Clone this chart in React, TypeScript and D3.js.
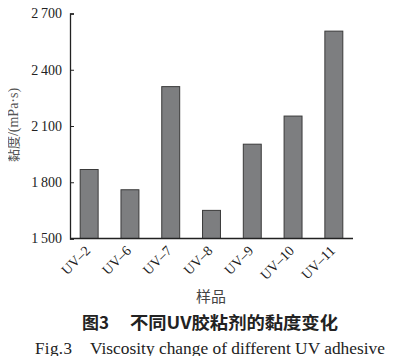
import { useEffect, useRef } from 'react';
import * as d3 from 'd3';

const samples = ['UV–2', 'UV–6', 'UV–7', 'UV–8', 'UV–9', 'UV–10', 'UV–11'];
const viscosity = [1868, 1760, 2310, 1650, 2003, 2153, 2606];
const yTicks = [1500, 1800, 2100, 2400, 2700];

const serif = '"Liberation Serif", "DejaVu Serif", serif';
const cjk = '"Noto Sans CJK SC", "Liberation Serif", serif';

export default function App() {
    const svgRef = useRef<SVGSVGElement>(null);

    useEffect(() => {
        const width = 393;
        const height = 364;
        const svg = d3.select(svgRef.current)
            .attr('width', width)
            .attr('height', height);
        svg.selectAll('*').remove();

        const left = 70, right = 353, top = 13.5, bottom = 238.5;

        const x = d3.scaleBand().domain(samples).range([left, right]).paddingInner(0.56).paddingOuter(0.25);
        const y = d3.scaleLinear().domain([1500, 2700]).range([bottom, top]);

        // bars
        svg.selectAll('.bar')
            .data(samples)
            .enter()
            .append('rect')
            .attr('x', d => x(d)!)
            .attr('width', x.bandwidth())
            .attr('y', (d, i) => y(viscosity[i]))
            .attr('height', (d, i) => bottom - y(viscosity[i]))
            .attr('fill', '#7d7e80')
            .attr('stroke', '#3a3a3a')
            .attr('stroke-width', 1);

        // y axis
        const yAxis = d3.axisLeft(y).tickValues(yTicks).tickSize(-4).tickPadding(8)
            .tickFormat(d => d3.format(',')(d as number).replace(',', '\u2009'));
        const gy = svg.append('g').attr('transform', `translate(${left},0)`).call(yAxis);
        gy.attr('font-family', null).attr('font-size', null);
        gy.select('.domain').attr('stroke', '#222').attr('stroke-width', 1.3);
        gy.selectAll('line').attr('stroke', '#222');
        gy.selectAll('text')
            .style('font-family', serif)
            .style('font-size', '14px')
            .attr('fill', '#222');

        // x axis line
        svg.append('line')
            .attr('x1', left).attr('x2', right)
            .attr('y1', bottom).attr('y2', bottom)
            .attr('stroke', '#222').attr('stroke-width', 1.3);

        // x labels
        svg.selectAll('.xl')
            .data(samples)
            .enter()
            .append('text')
            .attr('transform', d => `translate(${x(d)! + x.bandwidth() / 2 + 2},${bottom + 13}) rotate(-45)`)
            .attr('text-anchor', 'end')
            .style('font-family', serif)
            .style('font-size', '14px')
            .attr('fill', '#222')
            .text(d => d);

        // y title
        const yt = svg.append('text')
            .attr('transform', `translate(18,125) rotate(-90)`)
            .attr('text-anchor', 'middle')
            .attr('fill', '#555');
        yt.append('tspan').style('font-family', cjk).style('font-size', '13px').text('黏度');
        yt.append('tspan').style('font-family', serif).style('font-size', '14px').text('/(mPa·s)');

        svg.append('text')
            .attr('x', 211).attr('y', 302)
            .attr('text-anchor', 'middle')
            .style('font-family', cjk)
            .style('font-size', '15px')
            .attr('fill', '#444')
            .text('样品');

        // captions
        svg.append('text')
            .attr('x', 82).attr('y', 329)
            .style('font-family', cjk)
            .attr('font-weight', 'bold')
            .style('font-size', '17px')
            .attr('fill', '#222')
            .text('图3');
        svg.append('text')
            .attr('x', 130).attr('y', 329)
            .attr('textLength', 208)
            .attr('lengthAdjust', 'spacingAndGlyphs')
            .style('font-family', cjk)
            .attr('font-weight', 'bold')
            .style('font-size', '17px')
            .attr('fill', '#222')
            .text('不同UV胶粘剂的黏度变化');

        svg.append('text')
            .attr('x', 35).attr('y', 354)
            .attr('textLength', 37)
            .style('font-family', serif)
            .style('font-size', '17px')
            .attr('fill', '#222')
            .text('Fig.3');
        svg.append('text')
            .attr('x', 90).attr('y', 354)
            .attr('textLength', 295)
            .attr('lengthAdjust', 'spacingAndGlyphs')
            .style('font-family', serif)
            .style('font-size', '17px')
            .attr('fill', '#222')
            .text('Viscosity change of different UV adhesive');
    }, []);

    return (
        <div style={{ width: 393, height: 364, margin: -8, background: '#fff' }}>
            <svg ref={svgRef} style={{ display: 'block' }}></svg>
        </div>
    );
}
